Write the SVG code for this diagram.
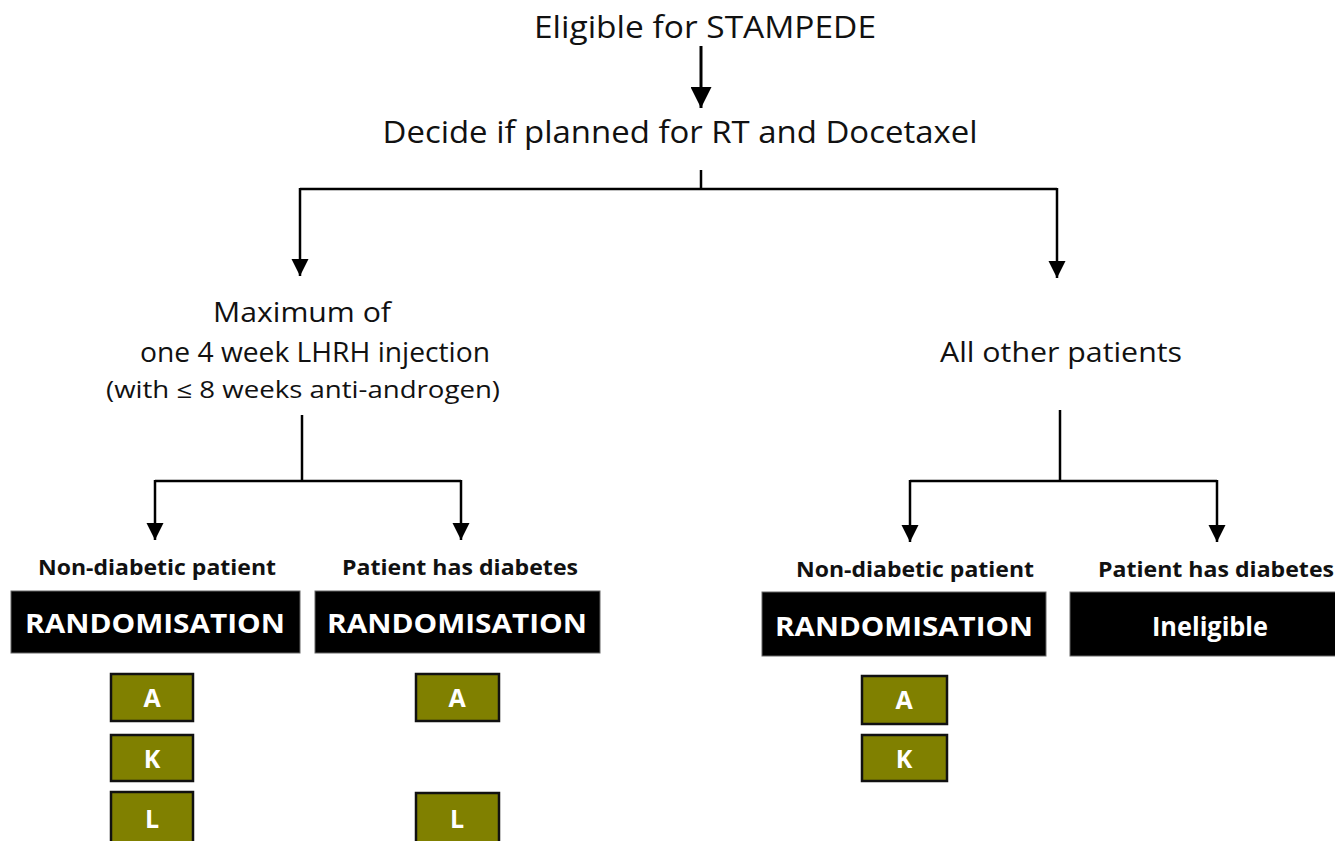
<svg xmlns="http://www.w3.org/2000/svg" width="1335" height="841" viewBox="0 0 1335 841">
<style>
.t{font-family:"Open Sans","Liberation Sans",sans-serif;fill:#111;text-anchor:middle}
.lb{font-family:"Open Sans","Liberation Sans",sans-serif;font-weight:bold;font-size:21px;fill:#111;text-anchor:middle}
.bt{font-family:"Open Sans","Liberation Sans",sans-serif;font-weight:bold;font-size:27px;fill:#fff;text-anchor:middle}
.blk{fill:#000;stroke:#666;stroke-width:1}
.ol{fill:#808000;stroke:#111;stroke-width:2.5}
.ot{font-family:"Open Sans","Liberation Sans",sans-serif;font-weight:bold;font-size:25px;fill:#fff;text-anchor:middle}
.c{fill:none;stroke:#000;stroke-width:2.5}
</style>
<defs>
<marker id="ah" viewBox="0 0 10 10" refX="10" refY="5" markerWidth="7" markerHeight="7" markerUnits="strokeWidth" orient="auto">
<path d="M0,0 L10,5 L0,10 z" fill="#000"/>
</marker>
</defs>
<rect width="1335" height="841" fill="#fff"/>
<g id="connectors">
<line class="c" x1="701" y1="46" x2="701" y2="108" marker-end="url(#ah)" style="stroke-width:3"/>
<line class="c" x1="701" y1="170" x2="701" y2="189"/>
<line class="c" x1="300" y1="189" x2="1057" y2="189"/>
<line class="c" x1="300" y1="188" x2="300" y2="276" marker-end="url(#ah)"/>
<line class="c" x1="1057" y1="188" x2="1057" y2="278" marker-end="url(#ah)"/>
<line class="c" x1="302" y1="415" x2="302" y2="481"/>
<line class="c" x1="155" y1="481" x2="461" y2="481"/>
<line class="c" x1="155" y1="480" x2="155" y2="540" marker-end="url(#ah)"/>
<line class="c" x1="461" y1="480" x2="461" y2="540" marker-end="url(#ah)"/>
<line class="c" x1="1060" y1="410" x2="1060" y2="481"/>
<line class="c" x1="910" y1="481" x2="1217" y2="481"/>
<line class="c" x1="910" y1="480" x2="910" y2="542" marker-end="url(#ah)"/>
<line class="c" x1="1217" y1="480" x2="1217" y2="542" marker-end="url(#ah)"/>
</g>
<g id="eligible"><text class="t" x="705" y="38" font-size="31" textLength="342" lengthAdjust="spacingAndGlyphs">Eligible for STAMPEDE</text></g>
<g id="decide"><text class="t" x="680" y="143" font-size="31" textLength="595" lengthAdjust="spacingAndGlyphs">Decide if planned for RT and Docetaxel</text></g>
<g id="maximum">
<text class="t" x="302" y="322" font-size="28" textLength="178" lengthAdjust="spacingAndGlyphs">Maximum of</text>
<text class="t" x="315" y="362" font-size="28" textLength="350" lengthAdjust="spacingAndGlyphs">one 4 week LHRH injection</text>
<text class="t" x="303" y="398" font-size="23" textLength="394" lengthAdjust="spacingAndGlyphs">(with ≤ 8 weeks anti-androgen)</text>
</g>
<g id="allother"><text class="t" x="1061" y="362" font-size="28" textLength="242" lengthAdjust="spacingAndGlyphs">All other patients</text></g>
<g id="lbl1"><text class="lb" x="157" y="575" textLength="238" lengthAdjust="spacingAndGlyphs">Non-diabetic patient</text></g>
<g id="lbl2"><text class="lb" x="460" y="575" textLength="236" lengthAdjust="spacingAndGlyphs">Patient has diabetes</text></g>
<g id="lbl3"><text class="lb" x="915" y="577" textLength="238" lengthAdjust="spacingAndGlyphs">Non-diabetic patient</text></g>
<g id="lbl4"><text class="lb" x="1216" y="577" textLength="236" lengthAdjust="spacingAndGlyphs">Patient has diabetes</text></g>
<g id="rand1"><rect class="blk" x="11" y="591" width="289" height="62"/><text class="bt" x="155" y="633" textLength="260" lengthAdjust="spacingAndGlyphs">RANDOMISATION</text></g>
<g id="rand2"><rect class="blk" x="315" y="591" width="285" height="62"/><text class="bt" x="457" y="633" textLength="260" lengthAdjust="spacingAndGlyphs">RANDOMISATION</text></g>
<g id="rand3"><rect class="blk" x="762" y="592" width="284" height="64"/><text class="bt" x="904" y="636" textLength="258" lengthAdjust="spacingAndGlyphs">RANDOMISATION</text></g>
<g id="inelig"><rect class="blk" x="1070" y="592" width="270" height="64"/><text class="bt" x="1210" y="636" textLength="116" lengthAdjust="spacingAndGlyphs">Ineligible</text></g>
<g id="a1"><rect class="ol" x="111" y="674" width="82" height="47"/><text class="ot" x="152" y="707">A</text></g>
<g id="k1"><rect class="ol" x="111" y="735" width="82" height="46"/><text class="ot" x="152" y="768">K</text></g>
<g id="l1"><rect class="ol" x="111" y="792" width="82" height="52"/><text class="ot" x="152" y="828">L</text></g>
<g id="a2"><rect class="ol" x="416" y="674" width="83" height="47"/><text class="ot" x="457" y="707">A</text></g>
<g id="l2"><rect class="ol" x="416" y="793" width="83" height="51"/><text class="ot" x="457" y="828">L</text></g>
<g id="a3"><rect class="ol" x="862" y="676" width="85" height="48"/><text class="ot" x="904" y="709">A</text></g>
<g id="k3"><rect class="ol" x="862" y="735" width="85" height="46"/><text class="ot" x="904" y="768">K</text></g>
</svg>
